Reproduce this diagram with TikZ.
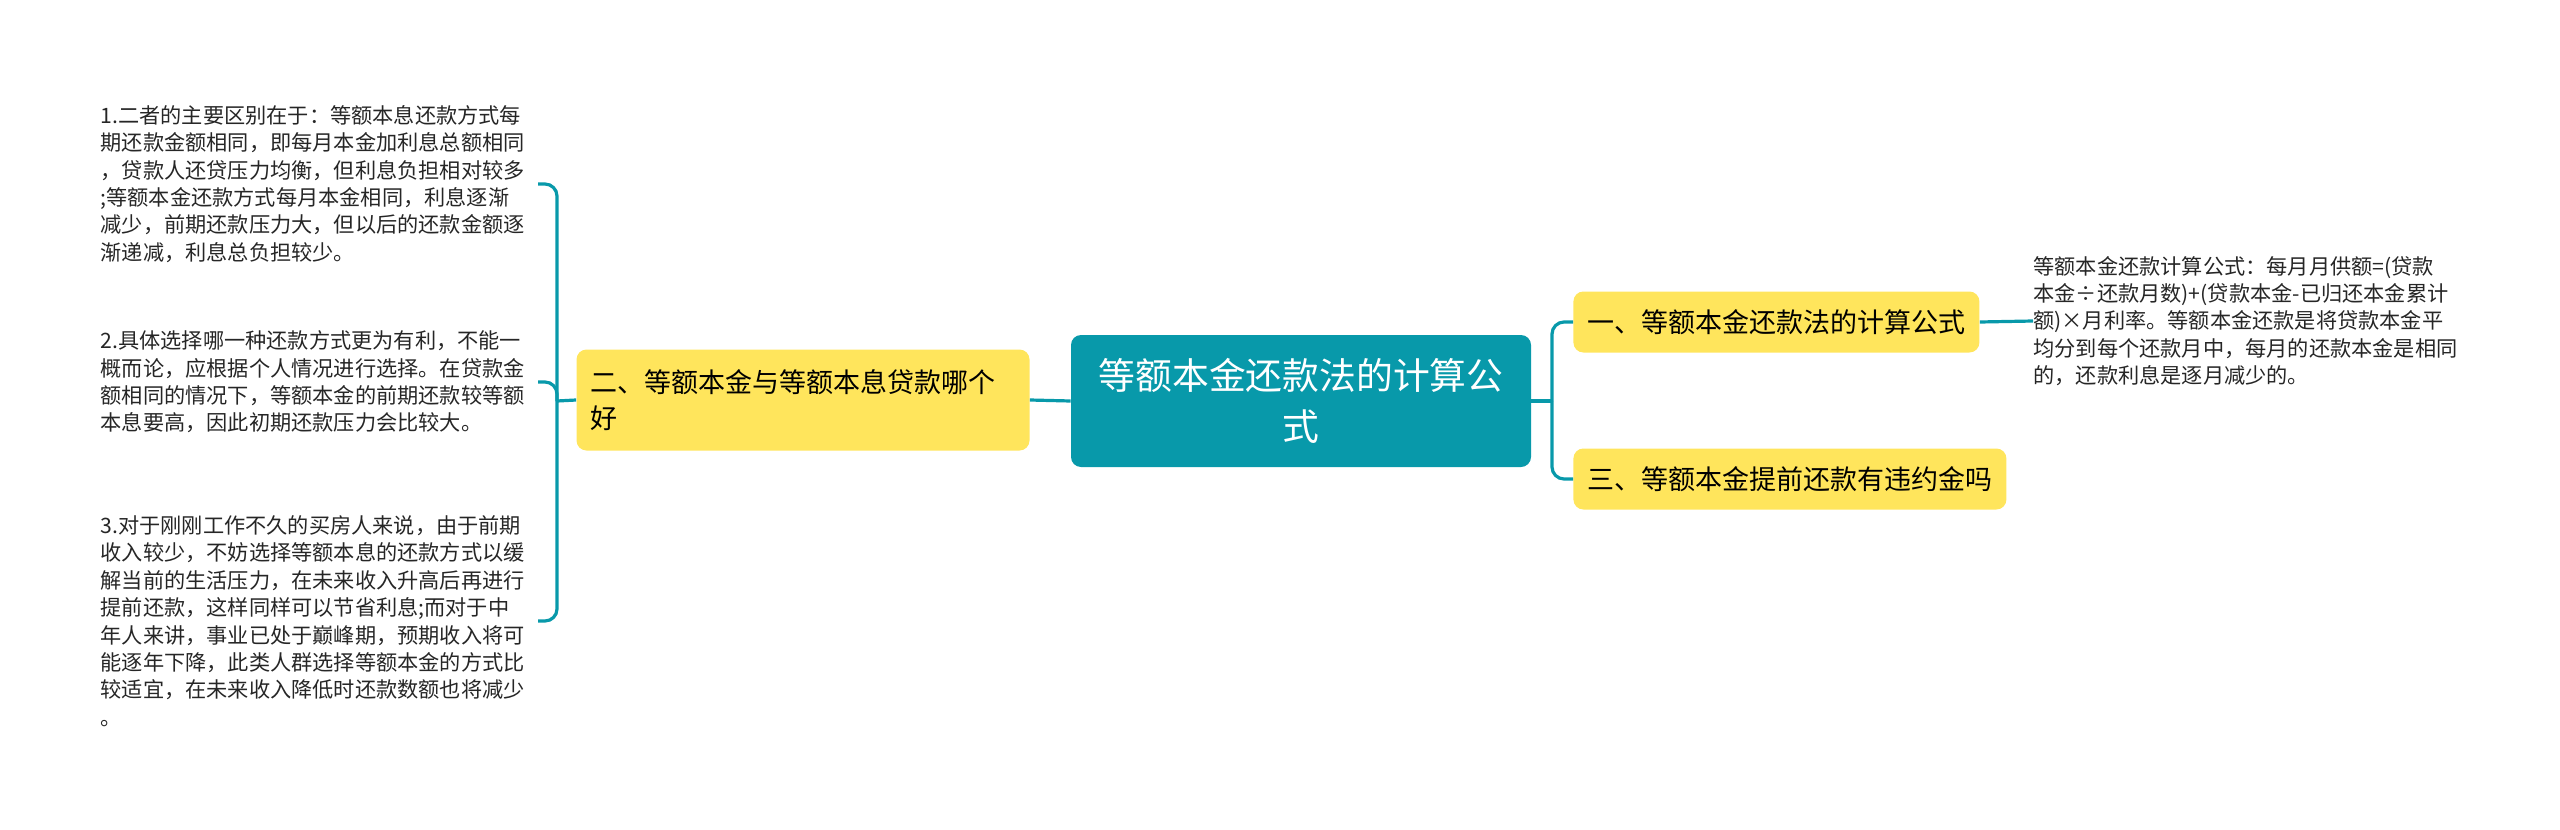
\documentclass[tikz,border=0pt]{standalone}
\usepackage{fontspec}
\usepackage{tikz}
\usetikzlibrary{positioning}
\newfontfamily\cjk{Noto Sans CJK SC}
\definecolor{mapteal}{RGB}{8,153,170}
\definecolor{mapyellow}{RGB}{255,229,92}

\begin{document}
\begin{tikzpicture}[
  x=0.5pt, y=-0.5pt,
  box/.style={rectangle, rounded corners=5pt, inner xsep=7pt, inner ysep=0pt},
  root/.style={box, fill=mapteal, text=white, minimum width=230pt, minimum height=66pt, align=center, font=\cjk\fontsize{18.4}{25.5}\selectfont},
  topic/.style={box, fill=mapyellow, text=black, minimum height=30.5pt, align=left, font=\cjk\fontsize{13.5}{18}\selectfont},
  note/.style={inner sep=0pt, align=left, text=black!85, font=\cjk\fontsize{10.6}{13.7}\selectfont},
  leftnote/.style={note, anchor=east, text width=218.5pt},
  link/.style={draw=mapteal, line width=1.6pt, rounded corners=6pt}
]
\useasboundingbox (0,0) rectangle (2560,830);
\node[root] (main) at (1301,401) {等额本金还款法的计算公\\式};
\node[topic, minimum width=226.5pt, minimum height=50.5pt, text width=212.5pt] (two) at (803,400) {二、等额本金与等额本息贷款哪个\\好};
\node[topic, anchor=west] (one) at (1573,322) {一、等额本金还款法的计算公式};
\node[topic, anchor=west] (three) at (1573,479) {三、等额本金提前还款有违约金吗};
\node[note, anchor=west] (formula) at (2033,321) {等额本金还款计算公式：每月月供额=(贷款\\本金÷还款月数)+(贷款本金-已归还本金累计\\额)×月利率。等额本金还款是将贷款本金平\\均分到每个还款月中，每月的还款本金是相同\\的，还款利息是逐月减少的。};
\node[leftnote] (diff) at (538,184) {1.二者的主要区别在于：等额本息还款方式每\\期还款金额相同，即每月本金加利息总额相同\\，贷款人还贷压力均衡，但利息负担相对较多\\;等额本金还款方式每月本金相同，利息逐渐\\减少，前期还款压力大，但以后的还款金额逐\\渐递减，利息总负担较少。};
\node[leftnote] (choice) at (538,382) {2.具体选择哪一种还款方式更为有利，不能一\\概而论，应根据个人情况进行选择。在贷款金\\额相同的情况下，等额本金的前期还款较等额\\本息要高，因此初期还款压力会比较大。};
\node[leftnote] (buyer) at (538,621) {3.对于刚刚工作不久的买房人来说，由于前期\\收入较少，不妨选择等额本息的还款方式以缓\\解当前的生活压力，在未来收入升高后再进行\\提前还款，这样同样可以节省利息;而对于中\\年人来讲，事业已处于巅峰期，预期收入将可\\能逐年下降，此类人群选择等额本金的方式比\\较适宜，在未来收入降低时还款数额也将减少\\。};
\coordinate (jl) at (557,401);
\coordinate (jr) at (1552,401);
% left branch
\draw[link] (main.west) -- (two.east);
\draw[link] (two.west) -- (jl);
\draw[link] (jl) |- (diff.east);
\draw[link] (jl) |- (choice.east);
\draw[link] (jl) |- (buyer.east);
% right branch
\draw[link] (main.east) -- (jr);
\draw[link] (jr) |- (one.west);
\draw[link] (jr) |- (three.west);
\draw[link] (one.east) -- (formula.west);
\end{tikzpicture}
\end{document}
